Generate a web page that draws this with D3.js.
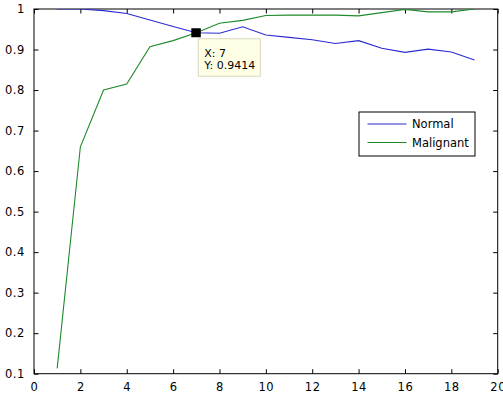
<!DOCTYPE html><html>
<head>
<meta charset="utf-8">
<style>
  body { margin: 0; background: #fff; }
  svg text { font-family: "DejaVu Sans", sans-serif; fill: #000; }
  .tick text { font-size: 11.5px; letter-spacing: 0.6px; }
</style>
</head><body>
<svg width="503" height="398"></svg>

<script src="https://cdn.jsdelivr.net/npm/d3@7"></script>
<script>
// values
var steps     = [1,2,3,4,5,6,7,8,9,10,11,12,13,14,15,16,17,18,19];
var normal    = [1.0,1.0,0.996,0.989,0.973,0.957,0.9414,0.940,0.956,0.936,0.930,0.924,0.915,0.922,0.903,0.893,0.901,0.894,0.874];
var malignant = [0.113,0.660,0.800,0.815,0.907,0.922,0.9414,0.965,0.972,0.984,0.985,0.985,0.985,0.983,0.991,0.999,0.993,0.993,1.0];
var xTicks = [0,2,4,6,8,10,12,14,16,18,20];
var yTicks = [0.1,0.2,0.3,0.4,0.5,0.6,0.7,0.8,0.9,1];
var seriesNames = ['Normal', 'Malignant'];
var colors = ['#2a2ad0', '#1f8a2a'];
var tip = { x: 7, y: 0.9414 };

var svg = d3.select('svg');
// plot box (note: "top" is taken by window.top, so use other names)
var pLeft = 34, pRight = 497.7, pTop = 9, pBottom = 373.7;

var x = d3.scaleLinear().domain([0, 20]).range([pLeft, pRight]);
var y = d3.scaleLinear().domain([0.1, 1]).range([pBottom, pTop]);

svg.append('clipPath').attr('id', 'plot')
  .append('rect').attr('x', pLeft).attr('y', pTop)
  .attr('width', pRight - pLeft).attr('height', pBottom - pTop);

// axes, ticks pointing inward like matlab
svg.append('g').attr('transform', 'translate(0,' + pBottom + ')')
  .call(d3.axisBottom(x).tickValues(xTicks).tickSizeInner(-4.5).tickSizeOuter(0).tickPadding(9));
svg.append('g').attr('transform', 'translate(0,' + pTop + ')')
  .call(d3.axisTop(x).tickValues(xTicks).tickSizeInner(-4.5).tickSizeOuter(0).tickFormat(''));
svg.append('g').attr('transform', 'translate(' + pLeft + ',0)')
  .call(d3.axisLeft(y).tickValues(yTicks).tickSizeInner(-4.5).tickSizeOuter(0).tickPadding(9)
    .tickFormat(function(d) { return d3.format('.1~f')(d); }));
svg.append('g').attr('transform', 'translate(' + pRight + ',0)')
  .call(d3.axisRight(y).tickValues(yTicks).tickSizeInner(-4.5).tickSizeOuter(0).tickFormat(''));

svg.selectAll('.domain').remove();
svg.selectAll('.tick line').attr('stroke', '#000');

svg.append('rect')
  .attr('x', pLeft).attr('y', pTop)
  .attr('width', pRight - pLeft).attr('height', pBottom - pTop)
  .attr('fill', 'none').attr('stroke', '#000').attr('stroke-width', 1);

var line = d3.line()
  .x(function(d) { return x(d[0]); })
  .y(function(d) { return y(d[1]); });

[normal, malignant].forEach(function(vals, i) {
  svg.append('path')
    .datum(d3.zip(steps, vals))
    .attr('clip-path', 'url(#plot)')
    .attr('d', line)
    .attr('fill', 'none')
    .attr('stroke', colors[i])
    .attr('stroke-width', 1.1);
});

// data tip
svg.append('rect')
  .attr('x', x(tip.x) - 5).attr('y', y(tip.y) - 4.5)
  .attr('width', 9.5).attr('height', 9)
  .attr('fill', '#000');
var tg = svg.append('g').attr('transform', 'translate(' + (x(tip.x) + 2) + ',' + (y(tip.y) + 6) + ')');
tg.append('rect')
  .attr('width', 62).attr('height', 37.5)
  .attr('fill', '#ffffe6').attr('stroke', '#d8d8c0');
tg.append('text').attr('x', 6).attr('y', 18).attr('font-size', 11)
  .text('X: ' + tip.x);
tg.append('text').attr('x', 6).attr('y', 30.5).attr('font-size', 11)
  .text('Y: ' + tip.y);

// legend
var lg = svg.append('g').attr('transform', 'translate(359,112)');
lg.append('rect')
  .attr('width', 116).attr('height', 44)
  .attr('fill', '#fff').attr('stroke', '#000');
seriesNames.forEach(function(name, i) {
  var yy = 12 + i * 18.5;
  lg.append('line')
    .attr('x1', 8.5).attr('x2', 47.5).attr('y1', yy).attr('y2', yy)
    .attr('stroke', colors[i]).attr('stroke-width', 1.1);
  lg.append('text')
    .attr('x', 53).attr('y', yy + 4.2)
    .attr('font-size', 11.5)
    .text(name);
});
</script>
</body></html>
